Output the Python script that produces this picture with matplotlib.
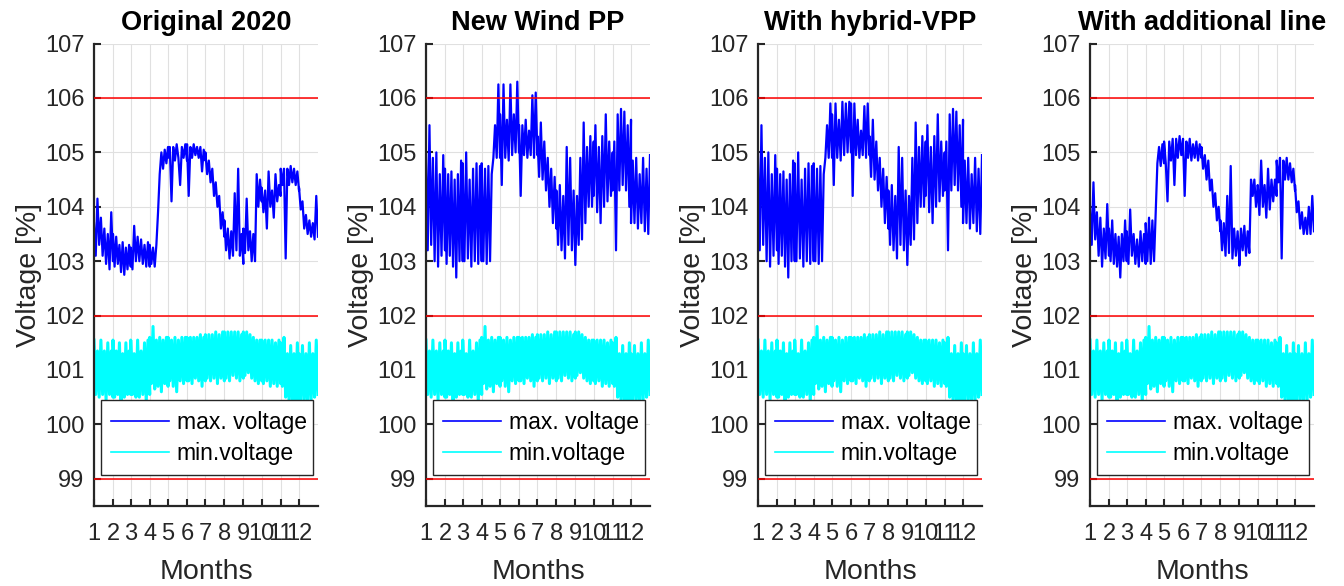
import numpy as np
import matplotlib
matplotlib.use("Agg")
import matplotlib.pyplot as plt

plt.rcParams['font.family'] = ['Liberation Sans', 'DejaVu Sans']

# ---- data (12 samples per month, hi/lo alternating) ----
titles = ['Original 2020', 'New Wind PP', 'With hybrid-VPP', 'With additional line']
month_labels = ['1', '2', '3', '4', '5', '6', '7', '8', '9', '10', '11', '12']
month_days = [31, 29, 31, 30, 31, 30, 31, 31, 30, 31, 30, 31]   # 2020
limits = [106, 102, 99]

max_original = [
    103.7, 103.1, 104.15, 103.3, 103.8, 103.1, 103.6, 102.95, 103.5, 102.85, 103.9, 103.0,
    103.5, 102.9, 103.45, 102.95, 103.3, 102.8, 103.35, 102.75, 103.25, 102.85, 103.3, 102.9,
    103.25, 102.85, 103.65, 103.0, 103.45, 103.0, 103.4, 102.95, 103.3, 102.9, 103.35, 102.9,
    103.3, 102.95, 103.25, 102.9, 103.3, 103.9, 104.6, 105.0, 104.7, 105.05, 104.8, 105.1,
    104.9, 105.1, 104.1, 105.1, 104.85, 105.15, 104.9, 104.4, 105.1, 104.9, 105.15, 104.85,
    105.15, 104.2, 105.1, 104.9, 105.15, 104.95, 105.1, 104.9, 105.1, 104.65, 105.05, 104.85,
    105.0, 104.6, 104.85, 104.45, 104.7, 104.2, 104.45, 104.0, 104.2, 103.6, 103.9, 103.45,
    103.75, 103.2, 103.6, 103.05, 103.55, 103.1, 104.25, 103.2, 104.7, 103.1, 103.5, 102.95,
    103.6, 103.15, 104.15, 103.2, 103.55, 103.0, 103.5, 103.0, 104.6, 104.0, 104.5, 104.1,
    104.35, 103.9, 104.3, 103.6, 104.65, 104.0, 104.3, 103.8, 104.6, 104.1, 104.4, 104.2,
    104.7, 104.4, 104.7, 103.05, 104.7, 104.4, 104.75, 104.45, 104.7, 104.4, 104.65, 104.3,
    104.35, 103.95, 104.1, 103.6, 103.85, 103.5, 103.75, 103.45, 103.7, 103.4, 104.2, 103.45,
]

max_wind = [
    105.0, 103.2, 105.5, 103.3, 104.9, 103.0, 105.0, 102.9, 104.6, 103.1, 104.95, 103.2,
    104.7, 102.95, 104.6, 103.1, 104.65, 102.9, 104.5, 102.7, 104.6, 103.0, 104.85, 103.0,
    104.8, 103.0, 105.0, 103.05, 104.5, 102.9, 104.7, 103.0, 104.8, 102.95, 104.75, 103.0,
    104.8, 103.0, 104.7, 102.95, 104.75, 103.0, 104.6, 104.9, 105.5, 104.9, 106.25, 104.9,
    105.7, 104.4, 106.25, 104.9, 105.6, 104.85, 106.25, 104.95, 105.7, 105.0, 106.3, 105.0,
    105.5, 104.2, 105.5, 104.95, 105.6, 104.9, 105.4, 104.95, 106.05, 104.9, 106.1, 104.95,
    105.3, 104.55, 105.55, 104.5, 105.2, 104.3, 104.9, 104.0, 104.7, 103.7, 104.55, 103.6,
    104.3, 103.3, 104.4, 103.2, 104.2, 103.05, 105.1, 103.3, 104.9, 103.2, 104.3, 103.0,
    102.93, 104.2, 103.3, 104.9, 103.4, 105.55, 103.7, 105.1, 104.0, 105.3, 104.0, 105.2,
    104.2, 105.5, 103.9, 105.1, 103.7, 105.3, 104.0, 105.7, 104.1, 105.2, 104.2, 105.0,
    104.3, 105.2, 103.2, 105.7, 104.3, 105.8, 104.4, 105.75, 104.3, 105.5, 104.0, 105.6,
    103.7, 104.85, 103.7, 104.9, 103.6, 104.6, 103.7, 104.9, 103.55, 104.7, 103.5, 104.95,
]

max_vpp = [
    105.0, 103.2, 105.5, 103.3, 104.9, 103.0, 105.0, 102.9, 104.6, 103.1, 104.95, 103.2,
    104.7, 102.95, 104.6, 103.1, 104.65, 102.9, 104.5, 102.7, 104.6, 103.0, 104.85, 103.0,
    104.8, 103.0, 105.0, 103.05, 104.5, 102.9, 104.7, 103.0, 104.8, 102.95, 104.75, 103.0,
    104.8, 103.0, 104.7, 102.95, 104.75, 103.0, 104.6, 104.9, 105.5, 104.9, 105.9, 104.9,
    105.7, 104.4, 105.9, 104.9, 105.6, 104.85, 105.93, 104.95, 105.9, 105.0, 105.93, 105.0,
    105.9, 104.2, 105.9, 104.95, 105.6, 104.9, 105.4, 104.95, 105.85, 104.9, 105.9, 104.95,
    105.3, 104.55, 105.6, 104.5, 105.2, 104.3, 104.9, 104.0, 104.7, 103.7, 104.55, 103.6,
    104.3, 103.3, 104.4, 103.2, 104.2, 103.05, 105.1, 103.3, 104.9, 103.2, 104.3, 103.0,
    102.93, 104.2, 103.3, 104.9, 103.4, 105.55, 103.7, 105.1, 104.0, 105.3, 104.0, 105.2,
    104.2, 105.5, 103.9, 105.1, 103.7, 105.3, 104.0, 105.7, 104.1, 105.2, 104.2, 105.0,
    104.3, 105.2, 103.2, 105.7, 104.3, 105.8, 104.4, 105.75, 104.3, 105.5, 104.0, 105.6,
    103.7, 104.85, 103.7, 104.9, 103.6, 104.6, 103.7, 104.9, 103.55, 104.7, 103.5, 104.95,
]

max_line = [
    104.0, 103.3, 104.45, 103.4, 103.9, 103.1, 103.8, 102.9, 103.6, 103.05, 104.05, 103.1,
    103.6, 103.0, 103.75, 102.95, 103.5, 102.9, 103.45, 102.7, 103.5, 103.0, 103.75, 103.0,
    103.55, 102.95, 103.95, 103.1, 103.5, 102.95, 103.4, 102.9, 103.55, 103.0, 103.5, 102.95,
    103.7, 103.0, 103.8, 102.95, 103.75, 103.0, 103.9, 104.8, 105.1, 104.75, 105.15, 104.8,
    105.2, 104.8, 104.1, 105.2, 104.85, 105.25, 104.4, 105.25, 104.9, 105.3, 104.95, 105.25,
    105.2, 104.2, 105.2, 104.9, 105.25, 104.85, 105.15, 104.9, 105.2, 104.85, 105.15, 104.9,
    105.1, 104.7, 104.95, 104.5, 104.85, 104.3, 104.5, 104.0, 104.25, 103.75, 104.0, 103.55,
    103.75, 103.2, 103.7, 103.1, 104.2, 103.15, 104.75, 103.05, 103.6, 103.1, 103.55, 103.0,
    102.92, 103.6, 103.2, 103.65, 103.1, 103.55, 103.15, 104.5, 104.2, 104.5, 104.0, 104.35,
    104.4, 103.85, 104.85, 104.0, 104.4, 103.8, 104.7, 103.95, 104.5, 104.1, 104.5, 104.2,
    104.85, 104.45, 104.9, 103.05, 104.85, 104.5, 104.9, 104.5, 104.8, 104.45, 104.7, 104.3,
    104.4, 103.9, 104.1, 103.6, 103.9, 103.5, 103.8, 103.5, 104.0, 103.5, 104.2, 103.55,
]

min_voltage = [
    101.55, 100.55, 101.35, 100.5, 101.55, 100.55, 101.35, 100.45, 101.5, 100.55, 101.35, 100.5,
    101.55, 100.5, 101.35, 100.55, 101.5, 100.45, 101.3, 100.5, 101.5, 100.55, 101.35, 100.55,
    101.55, 100.55, 101.3, 100.5, 101.55, 100.5, 101.35, 100.55, 101.5, 100.4, 101.55, 100.55,
    101.6, 100.75, 101.8, 100.65, 101.55, 100.7, 101.6, 100.6, 101.55, 100.75, 101.6, 100.7,
    101.6, 100.8, 101.55, 100.7, 101.6, 100.6, 101.55, 100.8, 101.6, 100.75, 101.6, 100.8,
    101.6, 100.8, 101.6, 100.75, 101.6, 100.85, 101.6, 100.8, 101.65, 100.7, 101.6, 100.8,
    101.65, 100.85, 101.65, 100.8, 101.65, 100.85, 101.7, 100.75, 101.65, 100.85, 101.7, 100.8,
    101.7, 100.85, 101.7, 100.8, 101.7, 100.9, 101.7, 100.85, 101.7, 100.8, 101.65, 100.85,
    101.7, 100.9, 101.7, 100.95, 101.65, 100.85, 101.6, 100.8, 101.55, 100.75, 101.55, 100.8,
    101.55, 100.75, 101.55, 100.8, 101.55, 100.7, 101.55, 100.75, 101.5, 100.7, 101.55, 100.75,
    101.5, 100.7, 101.6, 100.5, 101.3, 100.45, 101.45, 100.4, 101.3, 100.45, 101.5, 100.4,
    101.3, 100.45, 101.45, 100.4, 101.3, 100.4, 101.5, 100.45, 101.3, 100.5, 101.55, 100.55,
]

max_series = [max_original, max_wind, max_vpp, max_line]

# hours of the year, month starts as x ticks
month_start = np.concatenate([[0], np.cumsum(month_days)[:-1]]) * 24
year_hours = sum(month_days) * 24
x = np.concatenate([np.linspace(s, s + d * 24, 12) for s, d in zip(month_start, month_days)])

fig = plt.figure(figsize=(13.44, 5.86), dpi=100)
dark = '#262626'
lefts = [94, 426, 758, 1090]

for i, left in enumerate(lefts):
    ax = fig.add_axes([left / 1344, 1 - 506 / 586, 224 / 1344, 462.4 / 586])
    ax.plot(x, max_series[i], color='#0000ff', lw=1.6, label='max. voltage')
    ax.plot(x, min_voltage, color='#00ffff', lw=2.2, label='min.voltage')
    for v in limits:
        ax.axhline(v, color='#ff0000', lw=1.1, zorder=3)

    ax.set_xlim(0, year_hours)
    ax.set_ylim(98.5, 107)
    ax.set_xticks(month_start)
    ax.set_xticklabels(month_labels)
    ax.set_yticks(range(99, 108))
    ax.grid(True, color='#e0e0e0', lw=0.8)
    ax.set_axisbelow(True)
    for s in ['top', 'right']:
        ax.spines[s].set_visible(False)
    for s in ['left', 'bottom']:
        ax.spines[s].set_color(dark)
        ax.spines[s].set_linewidth(1.6)
    ax.tick_params(axis='both', direction='in', length=5, width=1.5, colors=dark,
                   labelsize=17)
    ax.tick_params(axis='x', pad=12)
    ax.tick_params(axis='y', pad=7)

    ax.set_title(titles[i], fontsize=19.5, fontweight='bold', pad=10)
    ax.set_xlabel('Months', fontsize=20.5, color=dark, labelpad=10)
    ax.set_ylabel('Voltage [%]', fontsize=20.5, color=dark, labelpad=2)

    leg = ax.legend(loc='lower left', bbox_to_anchor=(0.031, 0.067, 0.947, 0.158),
                    mode='expand', borderaxespad=0, fontsize=16.5, handlelength=2.5,
                    handletextpad=0.35, labelspacing=0.35, borderpad=0.45,
                    fancybox=False, framealpha=1)
    leg.get_frame().set_edgecolor(dark)
    leg.get_frame().set_linewidth(1.0)
    for h in leg.get_lines():
        h.set_linewidth(1.2)

fig.savefig('out.png', dpi=100)
